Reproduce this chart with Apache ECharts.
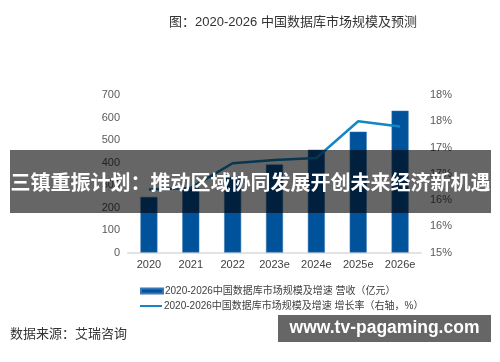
<!DOCTYPE html>
<html>
<head>
<meta charset="utf-8">
<style>html,body{margin:0;padding:0;background:#fff}#c{width:500px;height:362px}</style>
<script src="https://cdn.jsdelivr.net/npm/echarts@6/dist/echarts.min.js"></script>
</head>
<body>
<div id="c"></div>
<script>
var categories = ['2020', '2021', '2022', '2023e', '2024e', '2025e', '2026e'];
var revenue = [247, 287, 335, 391, 457, 537, 630];
var growth = [16.2, 16.23, 16.7, 16.76, 16.8, 17.5, 17.4];
var revenueName = '2020-2026中国数据库市场规模及增速 营收（亿元）';
var growthName = '2020-2026中国数据库市场规模及增速 增长率（右轴，%）';
var titleText = '图：2020-2026 中国数据库市场规模及预测';
var sourceText = '数据来源：艾瑞咨询';
var bannerText = '三镇重振计划：推动区域协同发展开创未来经济新机遇';
var watermarkText = 'www.tv-pagaming.com';

var FONT = '"Liberation Sans", Arial, "Noto Sans CJK SC", sans-serif';
var chart = echarts.init(document.getElementById('c'), null, {renderer: 'canvas'});
chart.setOption({
  animation: false,
  textStyle: {fontFamily: FONT},
  title: {
    text: titleText, left: 288, top: 11, textAlign: 'center',
    textStyle: {fontSize: 13, fontWeight: 'normal', color: '#333333', fontFamily: FONT}
  },
  grid: {left: 128, right: 79, top: 95, bottom: 109.5, containLabel: false},
  legend: [{
    data: [revenueName], orient: 'vertical', left: 135, top: 281,
    itemWidth: 22, itemHeight: 5, itemGap: 6, icon: 'rect',
    textStyle: {fontSize: 10, color: '#404040', padding: [0, 0, 0, -3]}
  }, {
    data: [growthName], orient: 'vertical', left: 135, top: 296,
    itemWidth: 22, itemHeight: 2, icon: 'rect',
    textStyle: {fontSize: 10, color: '#404040', padding: [0, 0, 0, -3]}
  }],
  xAxis: {
    type: 'category', data: categories,
    axisLine: {show: true, lineStyle: {color: '#e3e3e3', width: 2}},
    axisTick: {show: false},
    axisLabel: {color: '#404040', fontSize: 11, margin: 7}
  },
  yAxis: [{
    type: 'value', min: 0, max: 700, interval: 100,
    axisLine: {show: false}, axisTick: {show: false}, splitLine: {show: false},
    axisLabel: {color: '#595959', fontSize: 11, margin: 8}
  }, {
    type: 'value', min: 15, max: 18, interval: 0.5, position: 'right',
    axisLine: {show: false}, axisTick: {show: false}, splitLine: {show: false},
    axisLabel: {color: '#595959', fontSize: 11, margin: 9,
      formatter: function (v) { return v.toFixed(0) + '%'; }}
  }],
  series: [{
    name: revenueName, type: 'bar', data: revenue, barWidth: 17,
    itemStyle: {color: '#00529b', borderColor: '#3a78b5', borderWidth: 0.5}
  }, {
    name: growthName, type: 'line', yAxisIndex: 1, data: growth,
    symbol: 'none', smooth: false,
    lineStyle: {color: '#1387c3', width: 2.5},
    itemStyle: {color: '#1387c3'}
  }],
  graphic: [{
    type: 'text', left: 10, top: 327,
    style: {text: sourceText, font: '13px "Noto Sans CJK SC", sans-serif', fill: '#333333'}
  }, {
    type: 'rect', z: 100, shape: {x: 10, y: 150, width: 481, height: 63},
    style: {fill: 'rgba(0,0,0,0.6)'}
  }, {
    type: 'text', z: 101, x: 250.5, y: 182,
    style: {text: bannerText, font: 'bold 20px "Noto Sans CJK SC", sans-serif', fill: '#ffffff',
      align: 'center', verticalAlign: 'middle'}
  }, {
    type: 'rect', z: 100, shape: {x: 278, y: 315, width: 213, height: 27},
    style: {fill: '#666666'}
  }, {
    type: 'text', z: 101, x: 384.5, y: 328.5,
    style: {text: watermarkText, font: 'bold 17.5px "Liberation Sans", Arial, sans-serif', fill: '#ffffff',
      align: 'center', verticalAlign: 'middle'}
  }]
});
</script>
</body>
</html>
